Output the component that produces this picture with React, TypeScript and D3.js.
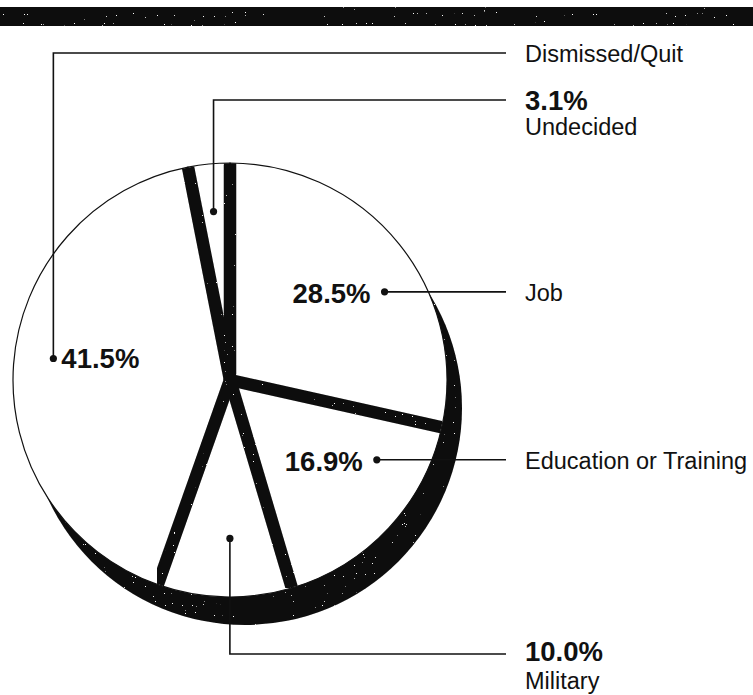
import React from "react";
import * as d3 from "d3";

// slices clockwise from 12 o'clock
const categories = ["Job", "Education or Training", "Military", "Dismissed/Quit", "Undecided"];
const shares = [28.5, 16.9, 10.0, 41.5, 3.1];
const shareLabels = ["28.5%", "16.9%", "10.0%", "41.5%", "3.1%"];

const W = 753;
const H = 695;
const cx = 230;
const cy = 380;
const R = 217;
const depth = { dx: 15, dy: 28 };
const gap = 12.5;
const textX = 525;
const lineEnd = 506;

// where each leader dot sits, relative to the slice's middle angle
const dotPlace = [
  { shift: 9, k: 0.82 },
  { shift: -14.5, k: 0.77 },
  { shift: -1.4, k: 0.73 },
  { shift: 2.8, k: 0.82 },
  { shift: 0, k: 0.78 },
];

const App = () => {
  const pie = d3.pie<number>().sort(null).value((d) => d);
  const arcs = pie(shares);
  const arc = d3.arc<d3.PieArcDatum<number>>().innerRadius(0).outerRadius(R);

  const dots = arcs.map((a, i) => {
    const mid = (a.startAngle + a.endAngle) / 2 + (dotPlace[i].shift * Math.PI) / 180;
    const r = R * dotPlace[i].k;
    return [cx + r * Math.sin(mid), cy - r * Math.cos(mid)];
  });

  const reg = { fontFamily: "Liberation Sans, Arial, sans-serif", fontSize: 23.5, fill: "#111" };
  const bold = { ...reg, fontSize: 27.5, fontWeight: 700 };

  // leader paths
  const [job, edu, mil, dis, und] = dots;
  const leaders = [
    `M${job[0]},${job[1]}H${lineEnd}`,
    `M${edu[0]},${edu[1]}H${lineEnd}`,
    `M${mil[0]},${mil[1]}V654H${lineEnd}`,
    `M${dis[0]},${dis[1]}V53H${lineEnd}`,
    `M${und[0]},${und[1]}V100H${lineEnd}`,
  ];

  return (
    <svg
      width={W}
      height={H}
      style={{ position: "absolute", left: 0, top: 0, background: "#fff" }}
    >
      <defs>
        <filter id="speckle" x="0" y="0" width="100%" height="100%">
          <feTurbulence type="fractalNoise" baseFrequency="0.9" numOctaves="1" seed="7" result="noise" />
          <feColorMatrix
            in="noise"
            type="matrix"
            values="0 0 0 0 1  0 0 0 0 1  0 0 0 0 1  40 0 0 0 -29.5"
            result="dots"
          />
          <feComposite in="dots" in2="SourceGraphic" operator="in" result="inside" />
          <feMerge>
            <feMergeNode in="SourceGraphic" />
            <feMergeNode in="inside" />
          </feMerge>
        </filter>
      </defs>

      <rect x={0} y={7} width={W} height={19} fill="#0a0a0a" filter="url(#speckle)" />

      {/* depth of the pie */}
      <g filter="url(#speckle)">
        <circle cx={cx + depth.dx} cy={cy + depth.dy} r={R} fill="#0a0a0a" />
        <circle cx={cx} cy={cy} r={R - 1} fill="#0a0a0a" />
      </g>

      <g transform={`translate(${cx},${cy})`}>
        {arcs.map((a, i) => (
          <path key={categories[i]} d={arc(a) || ""} fill="#fff" stroke="#111" strokeWidth={1.2} />
        ))}
        {/* black gaps between slices */}
        <g stroke="#0a0a0a" strokeWidth={gap} filter="url(#speckle)">
          {arcs.map((a, i) => (
            <line
              key={i}
              x1={0}
              y1={0}
              x2={(R - 0.5) * Math.sin(a.startAngle)}
              y2={-(R - 0.5) * Math.cos(a.startAngle)}
            />
          ))}
        </g>
      </g>

      <g fill="none" stroke="#111" strokeWidth={1.6}>
        {leaders.map((d, i) => (
          <path key={i} d={d} />
        ))}
      </g>
      {dots.map((p, i) => (
        <circle key={i} cx={p[0]} cy={p[1]} r={3.6} fill="#111" />
      ))}

      {/* percentages inside the pie */}
      <text x={job[0] - 14} y={job[1] + 11} textAnchor="end" style={bold}>{shareLabels[0]}</text>
      <text x={edu[0] - 14} y={edu[1] + 11} textAnchor="end" style={bold}>{shareLabels[1]}</text>
      <text x={dis[0] + 8} y={dis[1] + 10} style={bold}>{shareLabels[3]}</text>

      {/* right-hand labels */}
      <text x={textX} y={62} style={reg}>{categories[3]}</text>
      <text x={textX} y={110} style={bold}>{shareLabels[4]}</text>
      <text x={textX} y={135} style={reg}>{categories[4]}</text>
      <text x={textX} y={job[1] + 9} style={reg}>{categories[0]}</text>
      <text x={textX} y={edu[1] + 9} style={reg}>{categories[1]}</text>
      <text x={textX} y={661} style={bold}>{shareLabels[2]}</text>
      <text x={textX} y={689} style={reg}>{categories[2]}</text>
    </svg>
  );
};

export default App;
